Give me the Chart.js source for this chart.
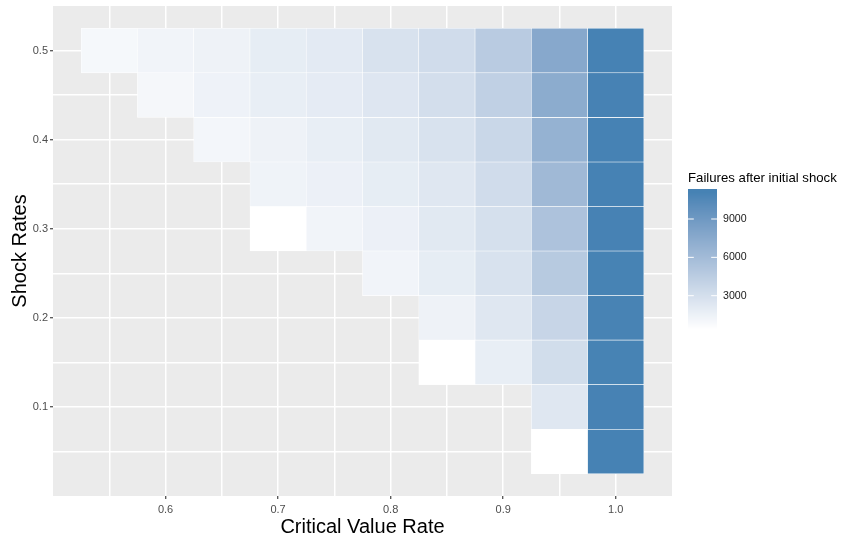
<!DOCTYPE html>
<html><head><meta charset="utf-8">
<script src="https://cdn.jsdelivr.net/npm/chart.js@4.4.1/dist/chart.umd.min.js"></script>
<style>html,body{margin:0;padding:0;background:#fff;}#wrap{width:842px;height:542px;}</style>
</head><body><div id="wrap"><canvas id="c" width="842" height="542"></canvas></div>
<script>
// ---- data ----
const criticalRates = [0.55, 0.60, 0.65, 0.70, 0.75, 0.80, 0.85, 0.90, 0.95, 1.00];
const shockRates = [0.05, 0.10, 0.15, 0.20, 0.25, 0.30, 0.35, 0.40, 0.45, 0.50];
// failures after initial shock for each critical value rate, by shock rate 0.05 -> 0.50
const failures055 = [null, null, null, null, null, null, null, null, null, 960];
const failures060 = [null, null, null, null, null, null, null, null, 1000, 1220];
const failures065 = [null, null, null, null, null, null, null, 1110, 1380, 1430];
const failures070 = [null, null, null, null, null, 362, 1320, 1430, 1750, 1860];
const failures075 = [null, null, null, null, null, 1220, 1540, 1750, 1970, 2075];
const failures080 = [null, null, null, null, 1220, 1540, 1860, 2180, 2400, 2720];
const failures085 = [null, null, 362, 1430, 1860, 2180, 2290, 2720, 3040, 3250];
const failures090 = [null, null, 1750, 2290, 2720, 2930, 3250, 3680, 4220, 4640];
const failures095 = [362, 2290, 3150, 3790, 4750, 5390, 6140, 6780, 7320, 7640];
const failures100 = [11067, 11040, 11020, 11000, 11010, 11030, 11050, 11060, 11040, 11050];
const xTickLabels = [0.6, 0.7, 0.8, 0.9, 1.0];
const yTickLabels = [0.1, 0.2, 0.3, 0.4, 0.5];
const legendTicks = [3000, 6000, 9000];
const legendTitle = 'Failures after initial shock';

// ---- colour scale (white -> steelblue, interpolated in CIE Lab) ----
function lin(c){c/=255;return c<=0.04045?c/12.92:Math.pow((c+0.055)/1.055,2.4);}
function unlin(c){c=c<=0.0031308?12.92*c:1.055*Math.pow(c,1/2.4)-0.055;return Math.max(0,Math.min(255,Math.round(c*255)));}
function toLab(r,g,b){
  const R=lin(r),G=lin(g),B=lin(b);
  const X=(0.4124*R+0.3576*G+0.1805*B)/0.95047,Y=0.2126*R+0.7152*G+0.0722*B,Z=(0.0193*R+0.1192*G+0.9505*B)/1.08883;
  const f=t=>t>0.008856?Math.cbrt(t):7.787*t+16/116;
  const fx=f(X),fy=f(Y),fz=f(Z);
  return [116*fy-16,500*(fx-fy),200*(fy-fz)];
}
function fromLab(L,a,b){
  const fy=(L+16)/116,fx=fy+a/500,fz=fy-b/200;
  const fi=t=>t*t*t>0.008856?t*t*t:(t-16/116)/7.787;
  const X=fi(fx)*0.95047,Y=fi(fy),Z=fi(fz)*1.08883;
  const R=3.2406*X-1.5372*Y-0.4986*Z,G=-0.9689*X+1.8758*Y+0.0415*Z,B=0.0557*X-0.2040*Y+1.0570*Z;
  return 'rgb('+unlin(R)+','+unlin(G)+','+unlin(B)+')';
}
const labLow=toLab(255,255,255), labHigh=toLab(70,130,180);
function colourAt(f){f=Math.max(0,Math.min(1,f));return fromLab(labLow[0]+(labHigh[0]-labLow[0])*f,labLow[1]+(labHigh[1]-labLow[1])*f,labLow[2]+(labHigh[2]-labLow[2])*f);}

const columns=[failures055,failures060,failures065,failures070,failures075,failures080,failures085,failures090,failures095,failures100];
const allVals=columns.flat().filter(v=>v!=null);
const vMin=Math.min(...allVals), vMax=Math.max(...allVals);
const halfRow=(shockRates[1]-shockRates[0])/2;
const tiles=[], tileColours=[];
criticalRates.forEach((cx,i)=>columns[i].forEach((v,j)=>{
  if(v==null)return;
  tiles.push({x:cx,y:[shockRates[j]-halfRow,shockRates[j]+halfRow],v:v});
  tileColours.push(colourAt((v-vMin)/(vMax-vMin)));
}));

const FONT="'Liberation Sans', Arial, Helvetica, sans-serif";
const near=(a,b)=>Math.abs(a-b)<1e-6;

const panelBg={id:'panelBg',beforeDraw(chart){
  const {ctx,chartArea:a}=chart;
  ctx.save();ctx.fillStyle='#fff';ctx.fillRect(0,0,chart.width,chart.height);
  ctx.fillStyle='#EBEBEB';ctx.fillRect(a.left,a.top,a.right-a.left,a.bottom-a.top);ctx.restore();
}};
const colourBar={id:'colourBar',afterDraw(chart){
  const ctx=chart.ctx;
  const bx=688,bw=29,top=189,h=144,bottom=top+h,nbin=20;
  ctx.save();
  ctx.fillStyle='#000';ctx.font='13.2px '+FONT;ctx.textBaseline='alphabetic';ctx.textAlign='left';
  ctx.fillText(legendTitle,688,181.5);
  for(let y=0;y<h;y++){
    const p=(h-y-0.5)/h;
    ctx.fillStyle=colourAt((p*nbin-0.5)/(nbin-1));
    ctx.fillRect(bx,top+y,bw,1);
  }
  ctx.strokeStyle='#fff';ctx.lineWidth=1;ctx.fillStyle='#1A1A1A';ctx.font='10.6px '+FONT;ctx.textBaseline='middle';
  legendTicks.forEach(t=>{
    const f=(t-vMin)/(vMax-vMin);
    const y=bottom-((f*(nbin-1)+0.5)/nbin)*h;
    ctx.beginPath();ctx.moveTo(bx,y);ctx.lineTo(bx+bw/5,y);ctx.moveTo(bx+bw-bw/5,y);ctx.lineTo(bx+bw,y);ctx.stroke();
    ctx.fillText(String(t),723,y);
  });
  ctx.restore();
}};

new Chart(document.getElementById('c'),{
  type:'bar',
  data:{datasets:[{data:tiles,backgroundColor:tileColours,borderColor:'rgba(255,255,255,0.95)',borderWidth:0.6,borderSkipped:false,barPercentage:1,categoryPercentage:1,grouped:false}]},
  options:{
    responsive:false,animation:false,devicePixelRatio:1,
    layout:{padding:{top:6,right:170,left:0,bottom:0}},
    plugins:{legend:{display:false},tooltip:{enabled:false}},
    scales:{
      x:{type:'linear',min:0.5,max:1.05,offset:false,
        afterFit(s){s.height=46;s.paddingLeft=0;s.paddingRight=0;},
        border:{display:false},
        grid:{offset:false,lineWidth:1.5,color:c=>(near(c.tick.value,0.5)||near(c.tick.value,1.05))?'rgba(0,0,0,0)':'#FFFFFF',
          drawTicks:true,tickLength:3,tickWidth:1.1,tickColor:c=>xTickLabels.some(t=>near(t,c.tick.value))?'#333333':'rgba(0,0,0,0)'},
        ticks:{stepSize:0.05,autoSkip:false,maxRotation:0,padding:4,color:'#4D4D4D',font:{family:FONT,size:11},
          callback:v=>xTickLabels.some(t=>near(t,v))?v.toFixed(1):''},
        title:{display:true,text:'Critical Value Rate',color:'#000',font:{family:FONT,size:20},padding:{top:0,bottom:2.5}}
      },
      y:{type:'linear',min:0,max:0.55,beginAtZero:true,
        afterFit(s){s.width=53;s.paddingTop=0;s.paddingBottom=0;},
        border:{display:false},
        grid:{lineWidth:1.5,color:c=>(near(c.tick.value,0)||near(c.tick.value,0.55))?'rgba(0,0,0,0)':'#FFFFFF',
          drawTicks:true,tickLength:3,tickWidth:1.1,tickColor:c=>yTickLabels.some(t=>near(t,c.tick.value))?'#333333':'rgba(0,0,0,0)'},
        ticks:{stepSize:0.05,autoSkip:false,padding:2,color:'#4D4D4D',font:{family:FONT,size:11},
          callback:v=>yTickLabels.some(t=>near(t,v))?v.toFixed(1):''},
        title:{display:true,text:'Shock Rates',color:'#000',font:{family:FONT,size:20},padding:{top:8,bottom:0}}
      }
    }
  },
  plugins:[panelBg,colourBar]
});
</script></body></html>
